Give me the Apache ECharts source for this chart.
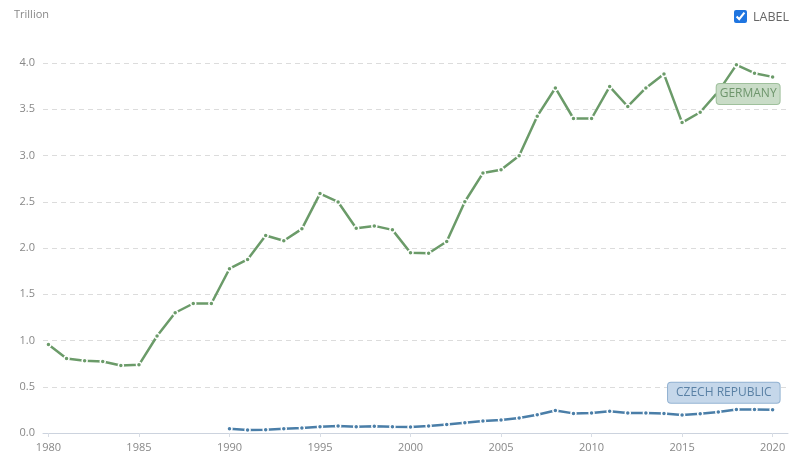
<!DOCTYPE html>
<html>
<head>
<meta charset="utf-8">
<script src="https://cdn.jsdelivr.net/npm/echarts@6/dist/echarts.min.js"></script>
<style>
    html, body { margin: 0; padding: 0; background: #fff; }
    #container { width: 791px; height: 457px; }
    #lbl {
        position: absolute; right: 2px; top: 8px;
        font-family: "Open Sans", sans-serif; font-size: 12.5px; color: #666;
        display: flex; align-items: center;
    }
    #lbl input { width: 13px; height: 13px; margin: 0 6px 0 0; accent-color: #1f75e0; }
</style>
</head>
<body>
<div id="container"></div>
<label id="lbl"><input type="checkbox" checked>LABEL</label>

<script>
    // values in trillions
    var years = [];
    for (var y = 1980; y <= 2020; y++) years.push(y);

    var germany = [0.956, 0.805, 0.78, 0.773, 0.73, 0.737, 1.049, 1.30, 1.40, 1.40,
        1.776, 1.876, 2.135, 2.078, 2.207, 2.588, 2.498, 2.213, 2.239, 2.196,
        1.948, 1.944, 2.07, 2.50, 2.81, 2.846, 2.997, 3.425, 3.73, 3.40,
        3.40, 3.745, 3.53, 3.73, 3.88, 3.356, 3.468, 3.69, 3.98, 3.89, 3.85];

    var czechYears = years.slice(10);
    var czech = [0.046, 0.032, 0.036, 0.046, 0.054, 0.068, 0.075, 0.068, 0.072, 0.068,
        0.065, 0.075, 0.093, 0.111, 0.129, 0.14, 0.162, 0.197, 0.244, 0.212,
        0.216, 0.234, 0.216, 0.216, 0.212, 0.194, 0.208, 0.226, 0.255, 0.255, 0.251];

    var yTicks = ['0.0', '0.5', '1.0', '1.5', '2.0', '2.5', '3.0', '3.5', '4.0'];

    function pairs(xs, vs) {
        return xs.map(function (x, i) { return [x, vs[i]]; });
    }

    var green = '#6b9b69';
    var blue = '#4a7ea8';
    var font = '"Open Sans", sans-serif';

    var myChart = echarts.init(document.getElementById('container'));
    var option = {
        animation: false,
        title: {
            text: 'Trillion', left: 9, top: 4,
            textStyle: { fontSize: 11, fontWeight: 'normal', color: '#888', fontFamily: font }
        },
        grid: { left: 43, right: 3, top: 63, bottom: 24 },
        xAxis: {
            type: 'value',
            min: 1979.7,
            max: 2020.85,
            splitNumber: 8,
            axisLine: { lineStyle: { color: '#ccd3de' } },
            axisTick: { show: true, length: 4, lineStyle: { color: '#d8dde5' } },
            splitLine: { show: false },
            axisLabel: {
                color: '#888', fontSize: 11, fontFamily: font, margin: 9,
                showMinLabel: false, showMaxLabel: false,
                formatter: function (v) { return v % 5 === 0 ? String(v) : ''; }
            }
        },
        yAxis: {
            type: 'value',
            min: 0,
            max: 4,
            interval: 0.5,
            axisLine: { show: false },
            axisTick: { show: false },
            splitLine: { lineStyle: { color: '#dcdcdc', type: [5, 4] } },
            axisLabel: {
                color: '#888', fontSize: 11, fontFamily: font, margin: 8,
                formatter: function (v) { return yTicks[Math.round(v * 2)]; }
            }
        },
        series: [
            {
                name: 'GERMANY',
                type: 'line',
                data: pairs(years, germany),
                symbol: 'circle',
                symbolSize: 5,
                lineStyle: { color: green, width: 2.5 },
                itemStyle: { color: green, borderColor: '#fff', borderWidth: 1.5 },
                endLabel: {
                    show: true, formatter: 'GERMANY',
                    align: 'right', verticalAlign: 'middle', offset: [-1, 17],
                    color: '#6e956c', fontSize: 12, fontFamily: font,
                    backgroundColor: '#c9dcc7', borderColor: '#9fc09c', borderWidth: 1,
                    borderRadius: 3, padding: [4, 3, 4, 3]
                }
            },
            {
                name: 'CZECH REPUBLIC',
                type: 'line',
                data: pairs(czechYears, czech),
                symbol: 'circle',
                symbolSize: 5,
                lineStyle: { color: blue, width: 2.5 },
                itemStyle: { color: blue, borderColor: '#fff', borderWidth: 1.5 },
                endLabel: {
                    show: true, formatter: 'CZECH REPUBLIC',
                    align: 'right', verticalAlign: 'middle', offset: [-1, -17],
                    color: '#5a81a5', fontSize: 12, fontFamily: font,
                    backgroundColor: '#c5d7ea', borderColor: '#92b2d2', borderWidth: 1,
                    borderRadius: 3, padding: [4, 8, 4, 8]
                }
            }
        ]
    };
    myChart.setOption(option);
</script>
</body>
</html>
